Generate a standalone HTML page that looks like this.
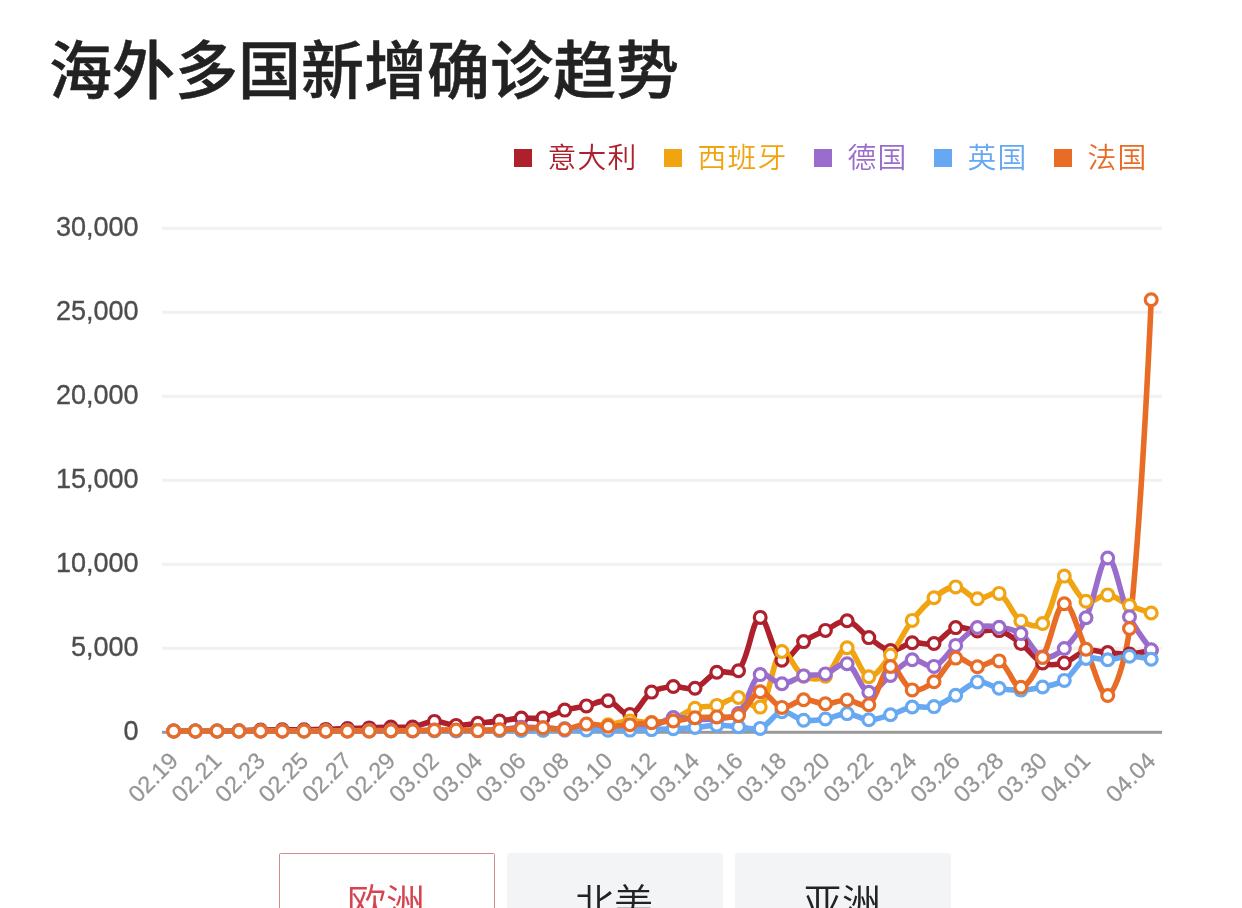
<!DOCTYPE html>
<html lang="zh-CN">
<head>
<meta charset="utf-8">
<title>海外多国新增确诊趋势</title>
<style>
html,body{margin:0;padding:0;background:#fff;}
body{width:1242px;height:908px;overflow:hidden;position:relative;font-family:"Liberation Sans","Noto Sans CJK SC",sans-serif;-webkit-font-smoothing:antialiased;}
.title{position:absolute;left:49px;top:25px;margin:0;font-size:63px;line-height:92px;font-weight:500;color:#222;white-space:nowrap;letter-spacing:0;-webkit-text-stroke:0.5px #222;}
.chart{position:absolute;left:0;top:0;font-family:"Liberation Sans","Noto Sans CJK SC",sans-serif;}
.legend{position:absolute;left:0;top:136px;width:1242px;height:44px;}
.li{position:absolute;top:0;height:44px;line-height:44px;font-weight:350;font-size:28.8px;letter-spacing:1.2px;padding-left:33.6px;white-space:nowrap;}
.li i{position:absolute;left:0;top:13px;width:18px;height:18px;}
.tabs{position:absolute;left:279px;top:853px;height:99px;white-space:nowrap;}
.tab{position:absolute;top:0;width:216px;height:99px;box-sizing:border-box;border-radius:3px;background:#f3f4f6;color:#222;font-weight:350;font-size:39px;line-height:101px;text-align:center;text-indent:-2px;}
.tab.on{background:#fff;border:1px solid #d18b8f;color:#d6444f;line-height:99px;border-radius:1.5px;}
</style>
</head>
<body>
<h1 class="title">海外多国新增确诊趋势</h1>
<div class="legend"><span class="li" style="left:514px;color:#ae212c"><i style="background:#ae212c"></i>意大利</span><span class="li" style="left:664px;color:#f1a412"><i style="background:#f1a412"></i>西班牙</span><span class="li" style="left:814px;color:#9a6dcc"><i style="background:#9a6dcc"></i>德国</span><span class="li" style="left:934px;color:#66a8f1"><i style="background:#66a8f1"></i>英国</span><span class="li" style="left:1054px;color:#e86c26"><i style="background:#e86c26"></i>法国</span></div>
<svg class="chart" width="1242" height="908" viewBox="0 0 1242 908">
<g class="grid">
<rect x="162" y="226.8" width="1000" height="3" fill="#f1f1f1"/>
<rect x="162" y="310.8" width="1000" height="3" fill="#f1f1f1"/>
<rect x="162" y="394.8" width="1000" height="3" fill="#f1f1f1"/>
<rect x="162" y="478.8" width="1000" height="3" fill="#f1f1f1"/>
<rect x="162" y="562.8" width="1000" height="3" fill="#f1f1f1"/>
<rect x="162" y="646.8" width="1000" height="3" fill="#f1f1f1"/>
<rect x="162" y="730.8" width="1000" height="3" fill="#999"/>
</g>
<g class="yl" font-size="27" fill="#4d4d4d" stroke="#4d4d4d" stroke-width="0.35" text-anchor="end">
<text x="138.5" y="235.8">30,000</text>
<text x="138.5" y="319.8">25,000</text>
<text x="138.5" y="403.8">20,000</text>
<text x="138.5" y="487.8">15,000</text>
<text x="138.5" y="571.8">10,000</text>
<text x="138.5" y="655.8">5,000</text>
<text x="138.5" y="739.8">0</text>
</g>
<g class="xl" font-size="23.5" fill="#969696" stroke="#969696" stroke-width="0.25" text-anchor="end">
<text transform="translate(173.9,756.6) rotate(-45)" y="8">02.19</text>
<text transform="translate(217.3,756.6) rotate(-45)" y="8">02.21</text>
<text transform="translate(260.8,756.6) rotate(-45)" y="8">02.23</text>
<text transform="translate(304.2,756.6) rotate(-45)" y="8">02.25</text>
<text transform="translate(347.7,756.6) rotate(-45)" y="8">02.27</text>
<text transform="translate(391.1,756.6) rotate(-45)" y="8">02.29</text>
<text transform="translate(434.6,756.6) rotate(-45)" y="8">03.02</text>
<text transform="translate(478,756.6) rotate(-45)" y="8">03.04</text>
<text transform="translate(521.5,756.6) rotate(-45)" y="8">03.06</text>
<text transform="translate(564.9,756.6) rotate(-45)" y="8">03.08</text>
<text transform="translate(608.3,756.6) rotate(-45)" y="8">03.10</text>
<text transform="translate(651.8,756.6) rotate(-45)" y="8">03.12</text>
<text transform="translate(695.2,756.6) rotate(-45)" y="8">03.14</text>
<text transform="translate(738.7,756.6) rotate(-45)" y="8">03.16</text>
<text transform="translate(782.1,756.6) rotate(-45)" y="8">03.18</text>
<text transform="translate(825.6,756.6) rotate(-45)" y="8">03.20</text>
<text transform="translate(869,756.6) rotate(-45)" y="8">03.22</text>
<text transform="translate(912.4,756.6) rotate(-45)" y="8">03.24</text>
<text transform="translate(955.9,756.6) rotate(-45)" y="8">03.26</text>
<text transform="translate(999.3,756.6) rotate(-45)" y="8">03.28</text>
<text transform="translate(1042.8,756.6) rotate(-45)" y="8">03.30</text>
<text transform="translate(1086.2,756.6) rotate(-45)" y="8">04.01</text>
<text transform="translate(1151.4,756.6) rotate(-45)" y="8">04.04</text>
</g>
<g class="lines" fill="none" stroke-width="5.6" stroke-linejoin="round">
<path stroke="#ae212c" d="M173.7,731C173.7,731 187.8,731 195.4,731C203,731 209.5,731 217.1,731C224.7,730.9 231.3,730.9 238.9,730.7C246.5,730.5 253,730.2 260.6,730C268.2,729.8 274.7,729.7 282.3,729.7C289.9,729.7 296.4,729.8 304,729.8C311.6,729.7 318.2,729.6 325.8,729.4C333.4,729.2 339.9,728.8 347.5,728.5C355.1,728.3 361.6,728.1 369.2,727.9C376.8,727.6 383.3,727.2 390.9,727.1C398.5,726.9 405.2,728 412.6,727C420.4,726 426.7,721.7 434.4,721.4C441.9,721.1 448.4,725.1 456.1,725.4C463.6,725.7 470.2,723.9 477.8,723.2C485.4,722.4 491.9,722 499.5,721.1C507.2,720.2 513.6,718.6 521.3,718.1C528.8,717.5 535.6,719.3 543,717.9C550.8,716.5 556.9,712.2 564.7,710.1C572.1,708 578.9,707.5 586.4,705.9C594.1,704.3 601.1,699.4 608.1,700.8C616.3,702.4 623,716 629.9,714.6C638.2,712.9 642.7,697.9 651.6,692.1C657.9,688 665.6,687.2 673.3,686.5C680.8,685.8 688.2,690.4 695,688.2C703.4,685.5 708.3,675.6 716.8,672.3C723.5,669.5 734.3,676 738.5,670.7C749.5,656.8 751.9,619.4 760.2,617.4C767.1,617.4 772.4,655 781.9,660.3C787.6,663.5 795.4,647.2 803.6,641.6C810.6,636.8 817.7,634.1 825.4,630.4C832.9,626.9 840,619.7 847.1,620.8C855.2,622.2 860.9,632.2 868.8,637.6C876.1,642.6 882.6,649.6 890.5,650.5C897.8,651.4 904.4,644.1 912.2,642.8C919.6,641.6 927.2,645.8 934,643.5C942.4,640.5 947.3,630.1 955.7,627.6C962.5,625.6 969.8,630.4 977.4,630.9C985,631.4 992.1,628.6 999.1,630.6C1007.3,633 1013.8,638.1 1020.9,643.4C1029,649.4 1033.9,659 1042.6,663C1049.1,665.9 1057.2,664.9 1064.3,662.9C1072.4,660.6 1077.9,652.6 1086,650.7C1093.1,649 1100.1,652 1107.7,652.6C1115.3,653.2 1121.9,654.4 1129.5,654C1137.1,653.6 1151.2,650.3 1151.2,650.3"/>
<path stroke="#f1a412" d="M173.7,731C173.7,731 187.8,731 195.4,731C203,731 209.5,731 217.1,731C224.7,731 231.3,731 238.9,731C246.5,731 253,731 260.6,731C268.2,731 274.7,731 282.3,731C289.9,731 296.4,731 304,731C311.6,731 318.2,731 325.8,731C333.4,731 339.9,731 347.5,730.9C355.1,730.9 361.6,730.9 369.2,730.9C376.8,730.9 383.3,730.9 390.9,730.8C398.5,730.8 405,730.7 412.6,730.7C420.2,730.7 426.8,730.8 434.4,730.8C442,730.8 448.5,730.6 456.1,730.6C463.7,730.5 470.2,730.5 477.8,730.4C485.4,730.3 491.9,730.3 499.5,730.2C507.1,730.2 513.6,730.1 521.3,730C528.9,730 535.4,730.3 543,730.1C550.6,729.9 557.1,729.4 564.7,729C572.3,728.7 578.9,728.8 586.4,728.1C594.1,727.4 600.6,726 608.1,724.8C615.8,723.5 622.2,721.3 629.9,720.9C637.4,720.5 644,722.9 651.6,722.6C659.2,722.3 666.1,721.6 673.3,719.2C681.3,716.6 687,710.7 695,708.2C702.2,705.9 709.4,707.2 716.8,705.4C724.6,703.4 731,697.2 738.5,697.5C746.2,697.8 755.9,711.6 760.2,707.1C771.1,695.6 772.1,658.5 781.9,651.5C787.3,647.7 794.5,670.9 803.6,676.1C809.7,679.5 819.6,680 825.4,676.2C834.8,670 839.5,647.6 847.1,647.7C854.7,647.7 860.6,675.2 868.8,676.7C875.8,677.8 884,663.5 890.5,655.1C899.2,643.8 903.6,631.8 912.2,620.4C918.9,611.7 925.4,604.3 934,597.7C940.6,592.6 948.2,586.7 955.7,586.9C963.4,587.1 969.4,597.6 977.4,598.8C984.6,599.9 993.2,590.4 999.1,593.4C1008.4,598.2 1011.5,614.5 1020.9,621C1026.7,625 1038.1,628.2 1042.6,623.5C1053.3,612.4 1055,580.8 1064.3,576.1C1070.2,576.1 1077,597.4 1086,601.3C1092.2,604 1100.4,594.2 1107.7,594.9C1115.6,595.6 1121.7,602.2 1129.5,605.5C1136.9,608.6 1151.2,613 1151.2,613"/>
<path stroke="#9a6dcc" d="M173.7,731C173.7,731 187.8,731 195.4,731C203,731 209.5,731 217.1,731C224.7,731 231.3,731 238.9,731C246.5,731 253,731 260.6,731C268.2,731 274.7,731 282.3,731C289.9,731 296.4,731 304,731C311.6,731 318.2,731 325.8,731C333.4,730.9 339.9,730.9 347.5,730.8C355.1,730.8 361.6,730.7 369.2,730.6C376.8,730.6 383.3,730.5 390.9,730.6C398.5,730.6 405,730.9 412.6,730.8C420.2,730.7 426.8,730.2 434.4,730.1C442,730.1 448.5,730.5 456.1,730.5C463.7,730.6 470.2,730.5 477.8,730.4C485.4,730.3 492,730.4 499.5,729.9C507.2,729.4 513.6,727.7 521.3,727.3C528.8,726.9 535.4,727.6 543,727.8C550.6,728.1 557.1,729 564.7,728.8C572.3,728.7 578.8,727 586.4,727C594,726.9 600.5,728.8 608.1,728.7C615.8,728.6 622.2,726.7 629.9,726.3C637.4,725.9 644.3,727.9 651.6,726.4C659.5,724.9 665.4,718.8 673.3,717.5C680.6,716.3 687.4,719.2 695,719.4C702.6,719.6 709.3,719.7 716.8,718.7C724.5,717.6 733.4,718.6 738.5,713.5C748.6,703.2 750.3,681.3 760.2,674.6C765.5,671 774.2,683.6 781.9,683.8C789.4,684 795.8,677.7 803.6,675.9C811,674.2 818.1,675.9 825.4,673.9C833.3,671.6 841,661.1 847.1,663.7C856.2,667.5 860.2,689.8 868.8,692.2C875.4,694 882.8,681.2 890.5,675.4C898,669.8 904,661.4 912.2,659.7C919.2,658.3 927.4,668.6 934,666.4C942.6,663.6 947.8,652.5 955.7,645.4C963,638.8 968.8,631.1 977.4,627.5C984,624.8 991.7,626.3 999.1,627.3C1006.9,628.4 1014.6,629.3 1020.9,633.6C1029.8,639.7 1033.8,654.1 1042.6,657.1C1049,659.3 1058.5,653.8 1064.3,648.5C1073.7,640 1080.4,629.5 1086,617.7C1095.6,597.8 1100.1,558.1 1107.7,558C1115.3,558 1120.1,597 1129.5,616.7C1135.4,629.1 1151.2,649.7 1151.2,649.7"/>
<path stroke="#66a8f1" d="M173.7,731C173.7,731 187.8,731 195.4,731C203,731 209.5,731 217.1,731C224.7,731 231.3,731 238.9,731C246.5,731 253,731 260.6,731C268.2,731 274.7,731 282.3,731C289.9,731 296.4,731 304,731C311.6,731 318.2,731 325.8,731C333.4,731 339.9,731 347.5,731C355.1,731 361.6,731 369.2,731C376.8,731 383.3,731 390.9,730.9C398.5,730.9 405,731 412.6,730.9C420.2,730.9 426.8,730.8 434.4,730.8C442,730.8 448.5,730.9 456.1,730.9C463.7,730.9 470.2,730.9 477.8,730.8C485.4,730.7 491.9,730.5 499.5,730.4C507.1,730.4 513.6,730.5 521.3,730.5C528.9,730.5 535.4,730.2 543,730.2C550.6,730.2 557.1,730.3 564.7,730.3C572.3,730.2 578.8,729.9 586.4,729.9C594,729.9 600.5,730.1 608.1,730.2C615.7,730.2 622.3,730.2 629.9,730.1C637.5,730 644,729.8 651.6,729.6C659.2,729.4 665.7,729.1 673.3,728.7C680.9,728.4 687.4,728.1 695,727.5C702.6,726.9 709.1,725.4 716.8,725.3C724.3,725.1 730.9,726.2 738.5,726.8C746.1,727.3 753.5,730.8 760.2,728.4C768.7,725.5 773.7,713.4 781.9,711.8C788.9,710.5 795.8,718.9 803.6,720.2C811,721.4 817.9,720.1 825.4,719C833.1,717.8 839.5,713.5 847.1,713.6C854.7,713.8 861.2,719.6 868.8,719.8C876.4,720 883,717 890.5,714.8C898.3,712.5 904.4,708.5 912.2,707C919.6,705.6 926.8,708.5 934,706.6C942,704.4 948.2,699.5 955.7,695.2C963.4,690.8 969.4,683.2 977.4,681.9C984.6,680.7 991.4,686.8 999.1,688.2C1006.6,689.6 1013.3,690.3 1020.9,690.1C1028.5,689.9 1035.1,688.7 1042.6,687C1050.3,685.3 1057.9,684.7 1064.3,680.4C1073.1,674.7 1077.1,662.6 1086,658.4C1092.3,656.2 1100.2,660.1 1107.7,659.7C1115.4,659.3 1121.9,656.3 1129.5,656.2C1137.1,656.2 1151.2,659.2 1151.2,659.2"/>
<path stroke="#e86c26" d="M173.7,731C173.7,731 187.8,731 195.4,731C203,731 209.5,731 217.1,731C224.7,731 231.3,731 238.9,731C246.5,731 253,731 260.6,731C268.2,731 274.7,731 282.3,731C289.9,731 296.4,731 304,731C311.6,731 318.2,731 325.8,731C333.4,731 339.9,731 347.5,731C355.1,731 361.6,731 369.2,730.9C376.8,730.9 383.3,730.7 390.9,730.7C398.5,730.6 405,730.7 412.6,730.7C420.2,730.6 426.8,730.4 434.4,730.3C442,730.2 448.5,729.9 456.1,730C463.7,730 470.2,730.7 477.8,730.6C485.4,730.6 491.9,730.1 499.5,729.8C507.1,729.4 513.6,729 521.3,728.7C528.9,728.3 535.4,727.7 543,727.8C550.6,727.9 557.2,730 564.7,729.3C572.4,728.7 578.7,724.7 586.4,724.1C593.9,723.6 600.5,726.1 608.1,726.2C615.7,726.3 622.3,725.4 629.9,724.8C637.5,724.1 644,723.3 651.6,722.7C659.2,722 665.7,721.8 673.3,721C680.9,720.2 687.4,718.5 695,717.8C702.6,717.1 709.2,717.3 716.8,716.9C724.4,716.5 732.3,719 738.5,715.5C747.5,710.2 751.9,693.2 760.2,691.7C767.1,690.4 773.7,705.9 781.9,707.4C788.9,708.7 795.9,700.4 803.6,699.7C811.1,699.1 817.8,703.8 825.4,703.8C833,703.9 839.5,699.8 847.1,700C854.7,700.1 863.7,708.7 868.8,704.8C878.9,697 881.7,669.5 890.5,666.5C896.9,664.3 903.4,686.8 912.2,689.9C918.6,692.2 927.6,686.4 934,681.8C942.8,675.3 946.9,661.1 955.7,658.1C962.1,655.9 969.7,666.2 977.4,666.7C984.9,667.1 993.1,658 999.1,660.9C1008.3,665.3 1013.5,687.9 1020.9,687.3C1028.8,686.7 1036.7,668.9 1042.6,657.5C1051.9,639.6 1056.2,605.2 1064.3,603.7C1071.4,602.4 1078.5,633.3 1086,649.3C1093.7,665.5 1101.4,698.5 1107.7,695.5C1116.6,691.2 1126.8,652.8 1129.5,628.5C1142,514.4 1151.2,299.8 1151.2,299.8"/>
</g>
<g class="syms" fill="#fff" stroke-width="3.2">
<g stroke="#ae212c"><circle cx="173.7" cy="731" r="5.9"/><circle cx="195.4" cy="731" r="5.9"/><circle cx="217.1" cy="731" r="5.9"/><circle cx="238.9" cy="730.7" r="5.9"/><circle cx="260.6" cy="730" r="5.9"/><circle cx="282.3" cy="729.7" r="5.9"/><circle cx="304" cy="729.8" r="5.9"/><circle cx="325.8" cy="729.4" r="5.9"/><circle cx="347.5" cy="728.5" r="5.9"/><circle cx="369.2" cy="727.9" r="5.9"/><circle cx="390.9" cy="727.1" r="5.9"/><circle cx="412.6" cy="727" r="5.9"/><circle cx="434.4" cy="721.4" r="5.9"/><circle cx="456.1" cy="725.4" r="5.9"/><circle cx="477.8" cy="723.2" r="5.9"/><circle cx="499.5" cy="721.1" r="5.9"/><circle cx="521.3" cy="718.1" r="5.9"/><circle cx="543" cy="717.9" r="5.9"/><circle cx="564.7" cy="710.1" r="5.9"/><circle cx="586.4" cy="705.9" r="5.9"/><circle cx="608.1" cy="700.8" r="5.9"/><circle cx="629.9" cy="714.6" r="5.9"/><circle cx="651.6" cy="692.1" r="5.9"/><circle cx="673.3" cy="686.5" r="5.9"/><circle cx="695" cy="688.2" r="5.9"/><circle cx="716.8" cy="672.3" r="5.9"/><circle cx="738.5" cy="670.7" r="5.9"/><circle cx="760.2" cy="617.4" r="5.9"/><circle cx="781.9" cy="660.3" r="5.9"/><circle cx="803.6" cy="641.6" r="5.9"/><circle cx="825.4" cy="630.4" r="5.9"/><circle cx="847.1" cy="620.8" r="5.9"/><circle cx="868.8" cy="637.6" r="5.9"/><circle cx="890.5" cy="650.5" r="5.9"/><circle cx="912.2" cy="642.8" r="5.9"/><circle cx="934" cy="643.5" r="5.9"/><circle cx="955.7" cy="627.6" r="5.9"/><circle cx="977.4" cy="630.9" r="5.9"/><circle cx="999.1" cy="630.6" r="5.9"/><circle cx="1020.9" cy="643.4" r="5.9"/><circle cx="1042.6" cy="663" r="5.9"/><circle cx="1064.3" cy="662.9" r="5.9"/><circle cx="1086" cy="650.7" r="5.9"/><circle cx="1107.7" cy="652.6" r="5.9"/><circle cx="1129.5" cy="654" r="5.9"/><circle cx="1151.2" cy="650.3" r="5.9"/></g>
<g stroke="#f1a412"><circle cx="173.7" cy="731" r="5.9"/><circle cx="195.4" cy="731" r="5.9"/><circle cx="217.1" cy="731" r="5.9"/><circle cx="238.9" cy="731" r="5.9"/><circle cx="260.6" cy="731" r="5.9"/><circle cx="282.3" cy="731" r="5.9"/><circle cx="304" cy="731" r="5.9"/><circle cx="325.8" cy="731" r="5.9"/><circle cx="347.5" cy="730.9" r="5.9"/><circle cx="369.2" cy="730.9" r="5.9"/><circle cx="390.9" cy="730.8" r="5.9"/><circle cx="412.6" cy="730.7" r="5.9"/><circle cx="434.4" cy="730.8" r="5.9"/><circle cx="456.1" cy="730.6" r="5.9"/><circle cx="477.8" cy="730.4" r="5.9"/><circle cx="499.5" cy="730.2" r="5.9"/><circle cx="521.3" cy="730" r="5.9"/><circle cx="543" cy="730.1" r="5.9"/><circle cx="564.7" cy="729" r="5.9"/><circle cx="586.4" cy="728.1" r="5.9"/><circle cx="608.1" cy="724.8" r="5.9"/><circle cx="629.9" cy="720.9" r="5.9"/><circle cx="651.6" cy="722.6" r="5.9"/><circle cx="673.3" cy="719.2" r="5.9"/><circle cx="695" cy="708.2" r="5.9"/><circle cx="716.8" cy="705.4" r="5.9"/><circle cx="738.5" cy="697.5" r="5.9"/><circle cx="760.2" cy="707.1" r="5.9"/><circle cx="781.9" cy="651.5" r="5.9"/><circle cx="803.6" cy="676.1" r="5.9"/><circle cx="825.4" cy="676.2" r="5.9"/><circle cx="847.1" cy="647.7" r="5.9"/><circle cx="868.8" cy="676.7" r="5.9"/><circle cx="890.5" cy="655.1" r="5.9"/><circle cx="912.2" cy="620.4" r="5.9"/><circle cx="934" cy="597.7" r="5.9"/><circle cx="955.7" cy="586.9" r="5.9"/><circle cx="977.4" cy="598.8" r="5.9"/><circle cx="999.1" cy="593.4" r="5.9"/><circle cx="1020.9" cy="621" r="5.9"/><circle cx="1042.6" cy="623.5" r="5.9"/><circle cx="1064.3" cy="576.1" r="5.9"/><circle cx="1086" cy="601.3" r="5.9"/><circle cx="1107.7" cy="594.9" r="5.9"/><circle cx="1129.5" cy="605.5" r="5.9"/><circle cx="1151.2" cy="613" r="5.9"/></g>
<g stroke="#9a6dcc"><circle cx="173.7" cy="731" r="5.9"/><circle cx="195.4" cy="731" r="5.9"/><circle cx="217.1" cy="731" r="5.9"/><circle cx="238.9" cy="731" r="5.9"/><circle cx="260.6" cy="731" r="5.9"/><circle cx="282.3" cy="731" r="5.9"/><circle cx="304" cy="731" r="5.9"/><circle cx="325.8" cy="731" r="5.9"/><circle cx="347.5" cy="730.8" r="5.9"/><circle cx="369.2" cy="730.6" r="5.9"/><circle cx="390.9" cy="730.6" r="5.9"/><circle cx="412.6" cy="730.8" r="5.9"/><circle cx="434.4" cy="730.1" r="5.9"/><circle cx="456.1" cy="730.5" r="5.9"/><circle cx="477.8" cy="730.4" r="5.9"/><circle cx="499.5" cy="729.9" r="5.9"/><circle cx="521.3" cy="727.3" r="5.9"/><circle cx="543" cy="727.8" r="5.9"/><circle cx="564.7" cy="728.8" r="5.9"/><circle cx="586.4" cy="727" r="5.9"/><circle cx="608.1" cy="728.7" r="5.9"/><circle cx="629.9" cy="726.3" r="5.9"/><circle cx="651.6" cy="726.4" r="5.9"/><circle cx="673.3" cy="717.5" r="5.9"/><circle cx="695" cy="719.4" r="5.9"/><circle cx="716.8" cy="718.7" r="5.9"/><circle cx="738.5" cy="713.5" r="5.9"/><circle cx="760.2" cy="674.6" r="5.9"/><circle cx="781.9" cy="683.8" r="5.9"/><circle cx="803.6" cy="675.9" r="5.9"/><circle cx="825.4" cy="673.9" r="5.9"/><circle cx="847.1" cy="663.7" r="5.9"/><circle cx="868.8" cy="692.2" r="5.9"/><circle cx="890.5" cy="675.4" r="5.9"/><circle cx="912.2" cy="659.7" r="5.9"/><circle cx="934" cy="666.4" r="5.9"/><circle cx="955.7" cy="645.4" r="5.9"/><circle cx="977.4" cy="627.5" r="5.9"/><circle cx="999.1" cy="627.3" r="5.9"/><circle cx="1020.9" cy="633.6" r="5.9"/><circle cx="1042.6" cy="657.1" r="5.9"/><circle cx="1064.3" cy="648.5" r="5.9"/><circle cx="1086" cy="617.7" r="5.9"/><circle cx="1107.7" cy="558" r="5.9"/><circle cx="1129.5" cy="616.7" r="5.9"/><circle cx="1151.2" cy="649.7" r="5.9"/></g>
<g stroke="#66a8f1"><circle cx="173.7" cy="731" r="5.9"/><circle cx="195.4" cy="731" r="5.9"/><circle cx="217.1" cy="731" r="5.9"/><circle cx="238.9" cy="731" r="5.9"/><circle cx="260.6" cy="731" r="5.9"/><circle cx="282.3" cy="731" r="5.9"/><circle cx="304" cy="731" r="5.9"/><circle cx="325.8" cy="731" r="5.9"/><circle cx="347.5" cy="731" r="5.9"/><circle cx="369.2" cy="731" r="5.9"/><circle cx="390.9" cy="730.9" r="5.9"/><circle cx="412.6" cy="730.9" r="5.9"/><circle cx="434.4" cy="730.8" r="5.9"/><circle cx="456.1" cy="730.9" r="5.9"/><circle cx="477.8" cy="730.8" r="5.9"/><circle cx="499.5" cy="730.4" r="5.9"/><circle cx="521.3" cy="730.5" r="5.9"/><circle cx="543" cy="730.2" r="5.9"/><circle cx="564.7" cy="730.3" r="5.9"/><circle cx="586.4" cy="729.9" r="5.9"/><circle cx="608.1" cy="730.2" r="5.9"/><circle cx="629.9" cy="730.1" r="5.9"/><circle cx="651.6" cy="729.6" r="5.9"/><circle cx="673.3" cy="728.7" r="5.9"/><circle cx="695" cy="727.5" r="5.9"/><circle cx="716.8" cy="725.3" r="5.9"/><circle cx="738.5" cy="726.8" r="5.9"/><circle cx="760.2" cy="728.4" r="5.9"/><circle cx="781.9" cy="711.8" r="5.9"/><circle cx="803.6" cy="720.2" r="5.9"/><circle cx="825.4" cy="719" r="5.9"/><circle cx="847.1" cy="713.6" r="5.9"/><circle cx="868.8" cy="719.8" r="5.9"/><circle cx="890.5" cy="714.8" r="5.9"/><circle cx="912.2" cy="707" r="5.9"/><circle cx="934" cy="706.6" r="5.9"/><circle cx="955.7" cy="695.2" r="5.9"/><circle cx="977.4" cy="681.9" r="5.9"/><circle cx="999.1" cy="688.2" r="5.9"/><circle cx="1020.9" cy="690.1" r="5.9"/><circle cx="1042.6" cy="687" r="5.9"/><circle cx="1064.3" cy="680.4" r="5.9"/><circle cx="1086" cy="658.4" r="5.9"/><circle cx="1107.7" cy="659.7" r="5.9"/><circle cx="1129.5" cy="656.2" r="5.9"/><circle cx="1151.2" cy="659.2" r="5.9"/></g>
<g stroke="#e86c26"><circle cx="173.7" cy="731" r="5.9"/><circle cx="195.4" cy="731" r="5.9"/><circle cx="217.1" cy="731" r="5.9"/><circle cx="238.9" cy="731" r="5.9"/><circle cx="260.6" cy="731" r="5.9"/><circle cx="282.3" cy="731" r="5.9"/><circle cx="304" cy="731" r="5.9"/><circle cx="325.8" cy="731" r="5.9"/><circle cx="347.5" cy="731" r="5.9"/><circle cx="369.2" cy="730.9" r="5.9"/><circle cx="390.9" cy="730.7" r="5.9"/><circle cx="412.6" cy="730.7" r="5.9"/><circle cx="434.4" cy="730.3" r="5.9"/><circle cx="456.1" cy="730" r="5.9"/><circle cx="477.8" cy="730.6" r="5.9"/><circle cx="499.5" cy="729.8" r="5.9"/><circle cx="521.3" cy="728.7" r="5.9"/><circle cx="543" cy="727.8" r="5.9"/><circle cx="564.7" cy="729.3" r="5.9"/><circle cx="586.4" cy="724.1" r="5.9"/><circle cx="608.1" cy="726.2" r="5.9"/><circle cx="629.9" cy="724.8" r="5.9"/><circle cx="651.6" cy="722.7" r="5.9"/><circle cx="673.3" cy="721" r="5.9"/><circle cx="695" cy="717.8" r="5.9"/><circle cx="716.8" cy="716.9" r="5.9"/><circle cx="738.5" cy="715.5" r="5.9"/><circle cx="760.2" cy="691.7" r="5.9"/><circle cx="781.9" cy="707.4" r="5.9"/><circle cx="803.6" cy="699.7" r="5.9"/><circle cx="825.4" cy="703.8" r="5.9"/><circle cx="847.1" cy="700" r="5.9"/><circle cx="868.8" cy="704.8" r="5.9"/><circle cx="890.5" cy="666.5" r="5.9"/><circle cx="912.2" cy="689.9" r="5.9"/><circle cx="934" cy="681.8" r="5.9"/><circle cx="955.7" cy="658.1" r="5.9"/><circle cx="977.4" cy="666.7" r="5.9"/><circle cx="999.1" cy="660.9" r="5.9"/><circle cx="1020.9" cy="687.3" r="5.9"/><circle cx="1042.6" cy="657.5" r="5.9"/><circle cx="1064.3" cy="603.7" r="5.9"/><circle cx="1086" cy="649.3" r="5.9"/><circle cx="1107.7" cy="695.5" r="5.9"/><circle cx="1129.5" cy="628.5" r="5.9"/><circle cx="1151.2" cy="299.8" r="5.9"/></g>
</g>
</svg>
<div class="tabs"><div class="tab on" style="left:0">欧洲</div><div class="tab" style="left:228px">北美</div><div class="tab" style="left:456px">亚洲</div></div>
</body>
</html>
